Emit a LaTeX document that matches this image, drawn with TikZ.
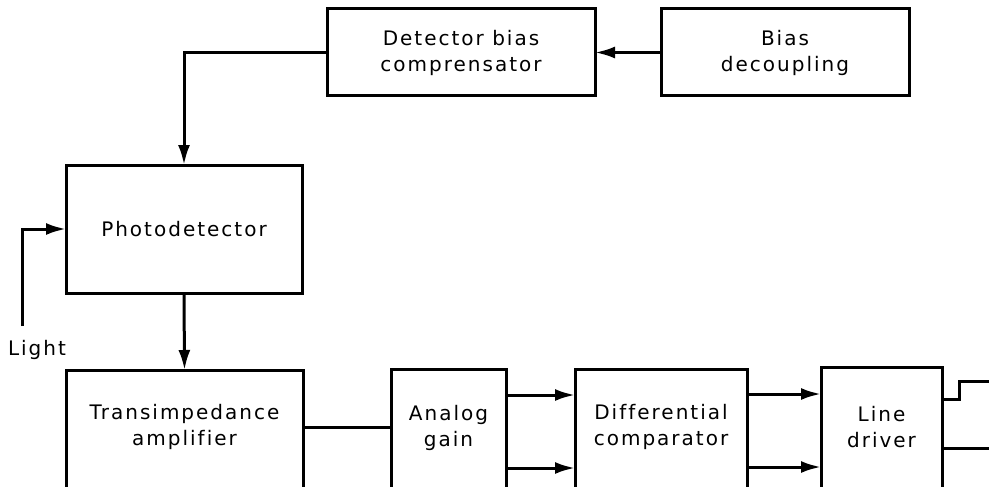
\documentclass[tikz,border=0pt]{standalone}
\usepackage{fontspec}
\setmainfont[LetterSpace=10,Ligatures=NoCommon]{DejaVu Sans}
\usetikzlibrary{arrows.meta}

\begin{document}
\begin{tikzpicture}[x=1pt,y=-1pt,line width=3pt,
  blk/.style={draw, line width=3pt, inner sep=0pt, outer sep=0pt, anchor=north west},
  lbl/.style={font={\fontsize{20}{26}\selectfont}, align=center, inner sep=0pt},
  arr/.style={-{Latex[length=20pt,width=12pt]}}]
\useasboundingbox (0,0) rectangle (989,487);
\clip (0,0) rectangle (989,487);
% top row
\node[blk, lbl, minimum width=268pt, minimum height=87pt] (det) at (327,9) {Detector bias\\comprensator};
\node[blk, lbl, minimum width=248pt, minimum height=87pt] (bias) at (661,9) {Bias\\decoupling};
\node[blk, lbl, minimum width=236pt, minimum height=128pt] (pd) at (66,165) {Photodetector};
\node[lbl] (light) at (37,350) {Light};
\coordinate (lightin) at (22,326);
% bottom row (boxes run off the lower edge)
\node[blk, minimum width=237pt, minimum height=170pt] (tia) at (66,370) {};
\node[blk, minimum width=115pt, minimum height=170pt] (ag) at (391,369) {};
\node[blk, minimum width=172pt, minimum height=170pt] (dc) at (575,369) {};
\node[blk, minimum width=121pt, minimum height=170pt] (ld) at (821,367) {};
\node[lbl] (tiaT) at (184.5,427) {Transimpedance\\amplifier};
\node[lbl] (agT) at (448.5,428) {Analog\\gain};
\node[lbl] (dcT) at (661,427) {Differential\\comparator};
\node[lbl] (ldT) at (881.5,427) {Line\\driver};
\coordinate (outA) at (989,381);
\coordinate (outB) at (989,448);
% connectors
\draw[arr] (bias.west) -- (det.east);
\draw[arr] (det.west) -| (pd.north);
\draw[arr] (lightin) |- (pd.west);
\draw[arr] (pd.south) -- (tia.north);
\draw (tia.east |- tiaT) -- (ag.west |- tiaT);
\draw[arr] ([yshift=-26pt]ag.north east) coordinate (a1) -- (a1 -| dc.west);
\draw[arr] ([yshift=-99pt]ag.north east) coordinate (a2) -- (a2 -| dc.west);
\draw[arr] ([yshift=-25pt]dc.north east) coordinate (d1) -- (d1 -| ld.west);
\draw[arr] ([yshift=-98pt]dc.north east) coordinate (d2) -- (d2 -| ld.west);
\draw ([yshift=-32pt]ld.north east) -- ++(17,0) |- (outA);
\draw ([yshift=-81pt]ld.north east) -- (outB);
\end{tikzpicture}
\end{document}
